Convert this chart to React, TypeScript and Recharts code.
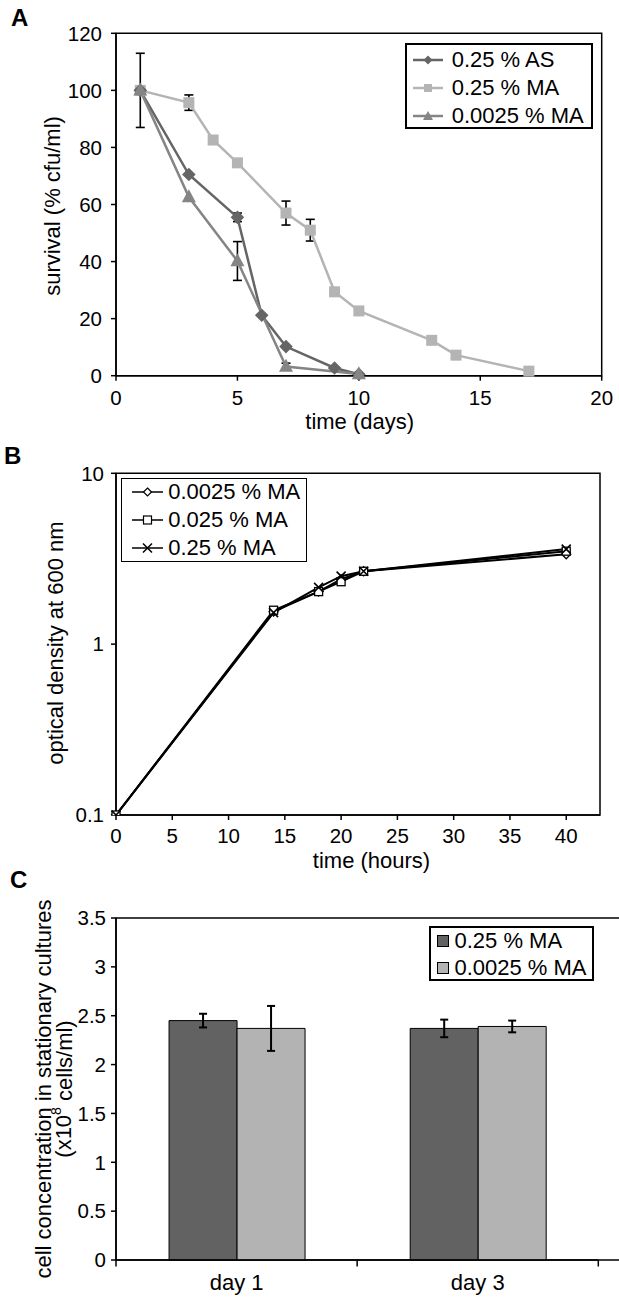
import React from 'react';
import {
  LineChart,
  Line,
  XAxis,
  YAxis,
  ErrorBar,
  ReferenceArea,
  Legend,
  BarChart,
  Bar,
  Label,
} from 'recharts';

const FONT = '"Liberation Sans", Arial, Helvetica, sans-serif';
const TICK_FS = 20.5;
const TEXT_FS = 22;

// ---------- Panel A : survival ----------
const aLabels = ['0.25 % AS', '0.25 % MA', '0.0025 % MA'];
const aAsDays = [1, 3, 5, 6, 7, 9, 10];
const aAsSurvival = [100, 70.5, 55.5, 21.2, 10.2, 2.7, 0.5];
const aAsErr = [13, 0, 1.5, 0, 0, 0, 0];
const aMaDays = [1, 3, 4, 5, 7, 8, 9, 10, 13, 14, 17];
const aMaSurvival = [100, 95.7, 82.6, 74.6, 57, 51, 29.4, 22.7, 12.4, 7.2, 1.6];
const aMaErr = [0, 2.7, 0, 1, 4.2, 3.8, 0, 1, 0, 0, 0];
const aLowDays = [1, 3, 5, 7, 10];
const aLowSurvival = [100, 62.6, 40.2, 3.2, 0.6];
const aLowErr = [0, 0, 6.8, 1.2, 0];
const aXTicks = [0, 5, 10, 15, 20];
const aYTicks = [0, 20, 40, 60, 80, 100, 120];

// ---------- Panel B : growth ----------
const bLabels = ['0.0025 % MA', '0.025 % MA', '0.25 % MA'];
const bHours = [0, 14, 18, 20, 22, 40];
const bOd0025 = [0.1, 1.55, 2.03, 2.4, 2.67, 3.36];
const bOd025 = [0.1, 1.58, 2.03, 2.32, 2.67, 3.5];
const bOd25 = [0.1, 1.53, 2.15, 2.5, 2.67, 3.6];
const bXTicks = [0, 5, 10, 15, 20, 25, 30, 35, 40];
const bYTicks = [0.1, 1, 10];

// ---------- Panel C : cell concentration ----------
const cCategories = ['day 1', 'day 3'];
const cLabels = ['0.25 % MA', '0.0025 % MA'];
const cHigh = [2.45, 2.37];
const cHighErr = [0.07, 0.09];
const cLow = [2.37, 2.39];
const cLowErr = [0.23, 0.06];
const cYTicks = [0, 0.5, 1, 1.5, 2, 2.5, 3, 3.5];

// ---------- built tables ----------
const aAsRows = aAsDays.map((d, i) => ({ x: d, v: aAsSurvival[i], err: aAsErr[i] }));
const aMaRows = aMaDays.map((d, i) => ({ x: d, v: aMaSurvival[i], err: aMaErr[i] }));
const aLowRows = aLowDays.map((d, i) => ({ x: d, v: aLowSurvival[i], err: aLowErr[i] }));
const bRows = bHours.map((h, i) => ({ x: h, d0025: bOd0025[i], d025: bOd025[i], d25: bOd25[i] }));
const cRows = cCategories.map((c, i) => ({
  day: c,
  high: cHigh[i],
  highErr: cHighErr[i],
  low: cLow[i],
  lowErr: cLowErr[i],
}));

const COL_AS = '#656565';
const COL_MA = '#b4b4b4';
const COL_LOW = '#858585';
const COL_BAR_DARK = '#626262';
const COL_BAR_LIGHT = '#b3b3b3';

const tickStyle = { fontSize: TICK_FS, fill: '#000', fontFamily: FONT };
const axisLineStyle = { stroke: '#000', strokeWidth: 1.5 };

// ---------- marker shapes ----------
const diamondPath = (cx: number, cy: number, r: number) =>
  `M${cx},${cy - r}L${cx + r},${cy}L${cx},${cy + r}L${cx - r},${cy}Z`;
const trianglePath = (cx: number, cy: number, w: number, h: number) =>
  `M${cx},${cy - h * 0.6}L${cx + w / 2},${cy + h * 0.4}L${cx - w / 2},${cy + h * 0.4}Z`;

const okPt = (p: any) => p && typeof p.cx === 'number' && typeof p.cy === 'number';

const dotAs = (p: any) =>
  okPt(p) ? <path key={`as-${p.index}`} d={diamondPath(p.cx, p.cy, 6.8)} fill={COL_AS} /> : <g key={`as-${p.index}`} />;
const dotMa = (p: any) =>
  okPt(p) ? (
    <rect key={`ma-${p.index}`} x={p.cx - 5.5} y={p.cy - 5.5} width={11} height={11} fill={COL_MA} />
  ) : (
    <g key={`ma-${p.index}`} />
  );
const dotLow = (p: any) =>
  okPt(p) ? <path key={`lo-${p.index}`} d={trianglePath(p.cx, p.cy, 14, 13)} fill={COL_LOW} /> : <g key={`lo-${p.index}`} />;

const dotBDiamond = (p: any) =>
  okPt(p) ? (
    <path key={`bd-${p.index}`} d={diamondPath(p.cx, p.cy, 4.5)} fill="#fff" stroke="#000" strokeWidth={1.3} />
  ) : (
    <g key={`bd-${p.index}`} />
  );
const dotBSquare = (p: any) =>
  okPt(p) ? (
    <rect key={`bs-${p.index}`} x={p.cx - 4} y={p.cy - 4} width={8} height={8} fill="#fff" stroke="#000" strokeWidth={1.3} />
  ) : (
    <g key={`bs-${p.index}`} />
  );
const dotBCross = (p: any) =>
  okPt(p) ? (
    <path
      key={`bx-${p.index}`}
      d={`M${p.cx - 4.5},${p.cy - 4.5}L${p.cx + 4.5},${p.cy + 4.5}M${p.cx - 4.5},${p.cy + 4.5}L${p.cx + 4.5},${p.cy - 4.5}`}
      stroke="#000"
      strokeWidth={1.6}
      fill="none"
    />
  ) : (
    <g key={`bx-${p.index}`} />
  );

// ---------- legends ----------
const rowStyle = (h: number): React.CSSProperties => ({
  display: 'flex',
  alignItems: 'center',
  height: h,
  whiteSpace: 'nowrap',
});

const LegendA = () => {
  const icons = [
    <svg width={30} height={16} key="i0">
      <line x1={0} y1={8} x2={30} y2={8} stroke={COL_AS} strokeWidth={2.5} />
      <path d={diamondPath(15, 8, 4.5)} fill={COL_AS} />
    </svg>,
    <svg width={30} height={16} key="i1">
      <line x1={0} y1={8} x2={30} y2={8} stroke={COL_MA} strokeWidth={2.5} />
      <rect x={11} y={4} width={8} height={8} fill={COL_MA} />
    </svg>,
    <svg width={30} height={16} key="i2">
      <line x1={0} y1={8} x2={30} y2={8} stroke={COL_LOW} strokeWidth={2.5} />
      <path d={trianglePath(15, 8.5, 10, 9)} fill={COL_LOW} />
    </svg>,
  ];
  return (
    <div
      style={{
        width: 187.7,
        height: 86.6,
        boxSizing: 'border-box',
        border: '2px solid #000',
        background: '#fff',
        paddingTop: 1.4,
        paddingLeft: 5.7,
        fontFamily: FONT,
        fontSize: TEXT_FS,
        color: '#000',
      }}
    >
      {aLabels.map((lab, i) => (
        <div key={lab} style={rowStyle(27.8)}>
          {icons[i]}
          <span style={{ marginLeft: 9 }}>{lab}</span>
        </div>
      ))}
    </div>
  );
};

const LegendB = () => {
  const icons = [
    <svg width={31} height={16} key="j0">
      <line x1={0} y1={8} x2={31} y2={8} stroke="#000" strokeWidth={1.5} />
      <path d={diamondPath(15.5, 8, 4)} fill="#fff" stroke="#000" strokeWidth={1.2} />
    </svg>,
    <svg width={31} height={16} key="j1">
      <line x1={0} y1={8} x2={31} y2={8} stroke="#000" strokeWidth={1.5} />
      <rect x={11.5} y={4} width={8} height={8} fill="#fff" stroke="#000" strokeWidth={1.2} />
    </svg>,
    <svg width={31} height={16} key="j2">
      <line x1={0} y1={8} x2={31} y2={8} stroke="#000" strokeWidth={1.5} />
      <path d="M11,3.5L20,12.5M11,12.5L20,3.5" stroke="#000" strokeWidth={1.5} />
    </svg>,
  ];
  return (
    <div
      style={{
        width: 185.5,
        height: 84,
        boxSizing: 'border-box',
        border: '1.5px solid #000',
        background: '#fff',
        paddingLeft: 10.2,
        fontFamily: FONT,
        fontSize: TEXT_FS,
        color: '#000',
      }}
    >
      <div style={{ marginTop: -0.7 }}>
        {bLabels.map((lab, i) => (
          <div key={lab} style={rowStyle(27.8)}>
            {icons[i]}
            <span style={{ marginLeft: 5 }}>{lab}</span>
          </div>
        ))}
      </div>
    </div>
  );
};

const LegendC = () => {
  const fills = [COL_BAR_DARK, COL_BAR_LIGHT];
  return (
    <div
      style={{
        width: 164.8,
        height: 55,
        boxSizing: 'border-box',
        border: '2px solid #000',
        background: '#fff',
        paddingLeft: 5.9,
        fontFamily: FONT,
        fontSize: TEXT_FS,
        color: '#000',
      }}
    >
      {cLabels.map((lab, i) => (
        <div key={lab} style={rowStyle(26.7)}>
          <svg width={12} height={12}>
            <rect x={0.5} y={0.5} width={11} height={11} fill={fills[i]} stroke="#000" strokeWidth={1} />
          </svg>
          <span style={{ marginLeft: 5.7 }}>{lab}</span>
        </div>
      ))}
    </div>
  );
};

// ---------- axis titles ----------
const titleProps = {
  fontFamily: FONT,
  fontSize: TEXT_FS,
  fill: '#000',
  textAnchor: 'middle' as const,
  dominantBaseline: 'central' as const,
};
const letterProps = { fontFamily: FONT, fontSize: 24, fontWeight: 700, fill: '#000' };

// category tick: label at the band centre, tick marks at the band edges
const CCatTick = (props: any) => {
  const { x, y, payload, index, width, visibleTicksCount } = props;
  const half = width / (2 * visibleTicksCount);
  const isLast = index === visibleTicksCount - 1;
  return (
    <g>
      <line x1={x - half} x2={x - half} y1={y} y2={y + 6.5} stroke="#000" strokeWidth={1.5} />
      {isLast ? <line x1={x + half} x2={x + half} y1={y} y2={y + 6.5} stroke="#000" strokeWidth={1.5} /> : null}
      <text x={x} y={y + 22} {...titleProps}>
        {payload.value}
      </text>
    </g>
  );
};

export default function App() {
  return (
    <div style={{ position: 'absolute', left: 0, top: 0, width: 619, height: 1299, background: '#fff' }}>
      {/* Panel A */}
      <div style={{ position: 'absolute', left: 0, top: 0 }}>
        <LineChart width={619} height={440} margin={{ top: 33.3, right: 17.3, bottom: 24.3, left: 0 }}>
          <XAxis
            dataKey="x"
            type="number"
            domain={[0, 20]}
            ticks={aXTicks}
            interval={0}
            height={40}
            tickSize={5}
            tickMargin={10}
            tick={tickStyle}
            axisLine={axisLineStyle}
            tickLine={axisLineStyle}
          >
            <Label
              content={() => (
                <text x={359.7} y={421} {...titleProps}>
                  time (days)
                </text>
              )}
            />
          </XAxis>
          <YAxis
            type="number"
            domain={[0, 120]}
            ticks={aYTicks}
            interval={0}
            width={116}
            tickSize={5}
            tickMargin={9}
            tick={tickStyle}
            axisLine={axisLineStyle}
            tickLine={axisLineStyle}
          >
            <Label
              content={() => (
                <g>
                  <text transform="translate(52,206) rotate(-90)" x={0} y={0} {...titleProps}>
                    survival (% cfu/ml)
                  </text>
                  <text x={11} y={26} {...letterProps}>
                    A
                  </text>
                </g>
              )}
            />
          </YAxis>
          <ReferenceArea x1={0} x2={20} y1={0} y2={120} fill="none" stroke="#000" strokeWidth={1.5} ifOverflow="visible" />
          <Legend
            layout="vertical"
            align="center"
            verticalAlign="middle"
            width={187.7}
            height={86.6}
            wrapperStyle={{ left: 405, top: 42.7, width: 187.7, height: 86.6 }}
            content={() => <LegendA />}
          />
          <Line
            data={aMaRows}
            dataKey="v"
            stroke={COL_MA}
            strokeWidth={2.5}
            dot={dotMa}
            activeDot={false}
            isAnimationActive={false}
          >
            <ErrorBar dataKey="err" direction="y" width={4.5} stroke="#000" strokeWidth={1.6} isAnimationActive={false} />
          </Line>
          <Line
            data={aAsRows}
            dataKey="v"
            stroke={COL_AS}
            strokeWidth={2.5}
            dot={dotAs}
            activeDot={false}
            isAnimationActive={false}
          >
            <ErrorBar dataKey="err" direction="y" width={4.5} stroke="#000" strokeWidth={1.6} isAnimationActive={false} />
          </Line>
          <Line
            data={aLowRows}
            dataKey="v"
            stroke={COL_LOW}
            strokeWidth={2.5}
            dot={dotLow}
            activeDot={false}
            isAnimationActive={false}
          >
            <ErrorBar dataKey="err" direction="y" width={4.5} stroke="#000" strokeWidth={1.6} isAnimationActive={false} />
          </Line>
        </LineChart>
      </div>

      {/* Panel B */}
      <div style={{ position: 'absolute', left: 0, top: 430 }}>
        <LineChart width={619} height={455} data={bRows} margin={{ top: 43.3, right: 19, bottom: 30, left: 0 }}>
          <XAxis
            dataKey="x"
            type="number"
            domain={[0, 43]}
            ticks={bXTicks}
            interval={0}
            height={40}
            tickSize={5}
            tickMargin={8}
            tick={tickStyle}
            axisLine={axisLineStyle}
            tickLine={axisLineStyle}
          >
            <Label
              content={() => (
                <text x={371.5} y={430} {...titleProps}>
                  time (hours)
                </text>
              )}
            />
          </XAxis>
          <YAxis
            type="number"
            scale="log"
            domain={[0.1, 10]}
            ticks={bYTicks}
            interval={0}
            allowDataOverflow
            width={116}
            tickSize={5}
            tickMargin={7}
            tick={tickStyle}
            tickFormatter={(v: number) => String(v)}
            axisLine={axisLineStyle}
            tickLine={axisLineStyle}
          >
            <Label
              content={() => (
                <g>
                  <text transform="translate(55.6,213) rotate(-90)" x={0} y={0} {...titleProps}>
                    optical density at 600 nm
                  </text>
                  <text x={4} y={34} {...letterProps}>
                    B
                  </text>
                </g>
              )}
            />
          </YAxis>
          <ReferenceArea x1={0} x2={43} y1={0.1} y2={10} fill="none" stroke="#000" strokeWidth={1.5} ifOverflow="visible" />
          <Legend
            layout="vertical"
            align="center"
            verticalAlign="middle"
            width={185.5}
            height={84}
            wrapperStyle={{ left: 121, top: 48, width: 185.5, height: 84 }}
            content={() => <LegendB />}
          />
          <Line dataKey="d0025" stroke="#000" strokeWidth={2} dot={dotBDiamond} activeDot={false} isAnimationActive={false} />
          <Line dataKey="d025" stroke="#000" strokeWidth={2} dot={dotBSquare} activeDot={false} isAnimationActive={false} />
          <Line dataKey="d25" stroke="#000" strokeWidth={2} dot={dotBCross} activeDot={false} isAnimationActive={false} />
        </LineChart>
      </div>

      {/* Panel C */}
      <div style={{ position: 'absolute', left: 0, top: 860 }}>
        <BarChart
          width={619}
          height={439}
          data={cRows}
          margin={{ top: 58, right: 20.7, bottom: 0, left: 0 }}
          barCategoryGap="22%"
          barGap={0}
        >
          <XAxis
            xAxisId="cat"
            dataKey="day"
            interval={0}
            height={39}
            tickSize={0}
            tickMargin={0}
            tickLine={false}
            tick={<CCatTick />}
            axisLine={axisLineStyle}
          />
          <XAxis xAxisId="edge" type="number" domain={[0, 2]} hide height={0} />
          <YAxis
            type="number"
            domain={[0, 3.5]}
            ticks={cYTicks}
            interval={0}
            width={116}
            tickSize={5}
            tickMargin={5}
            tick={tickStyle}
            tickFormatter={(v: number) => String(v)}
            axisLine={axisLineStyle}
            tickLine={axisLineStyle}
          >
            <Label
              content={() => (
                <g>
                  <text transform="translate(43.7,229) rotate(-90)" x={0} y={0} {...titleProps}>
                    cell concentration in stationary cultures
                  </text>
                  <text transform="translate(63.5,229) rotate(-90)" x={0} y={0} {...titleProps}>
                    (x10
                    <tspan dy={-8} fontSize={14}>
                      8
                    </tspan>
                    <tspan dy={8}> cells/ml)</tspan>
                  </text>
                  <text x={10} y={28} {...letterProps}>
                    C
                  </text>
                </g>
              )}
            />
          </YAxis>
          <ReferenceArea
            xAxisId="edge"
            x1={0}
            x2={2}
            y1={0}
            y2={3.5}
            fill="none"
            stroke="#000"
            strokeWidth={1.5}
            ifOverflow="visible"
          />
          <Legend
            layout="vertical"
            align="center"
            verticalAlign="middle"
            width={164.8}
            height={55}
            wrapperStyle={{ left: 428.9, top: 65.7, width: 164.8, height: 55 }}
            content={() => <LegendC />}
          />
          <Bar xAxisId="cat" dataKey="high" fill={COL_BAR_DARK} stroke="#000" strokeWidth={1} isAnimationActive={false}>
            <ErrorBar dataKey="highErr" direction="y" width={4} stroke="#000" strokeWidth={2} isAnimationActive={false} />
          </Bar>
          <Bar xAxisId="cat" dataKey="low" fill={COL_BAR_LIGHT} stroke="#000" strokeWidth={1} isAnimationActive={false}>
            <ErrorBar dataKey="lowErr" direction="y" width={4} stroke="#000" strokeWidth={2} isAnimationActive={false} />
          </Bar>
        </BarChart>
      </div>
    </div>
  );
}
